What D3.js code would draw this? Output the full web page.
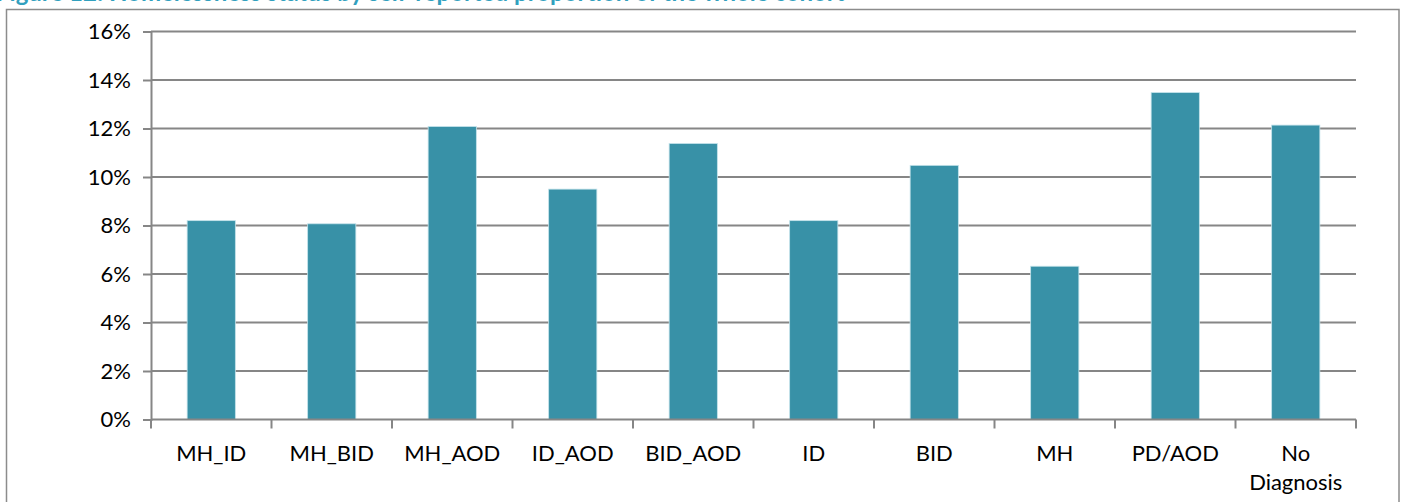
<!DOCTYPE html>
<html>
<head>
<meta charset="utf-8">
<script src="https://cdn.jsdelivr.net/npm/d3@7"></script>
<style>
  html, body { margin: 0; padding: 0; background: #fff; }
  svg { display: block; }
  text { font-family: Lato, "Open Sans", sans-serif; }
</style>
</head>
<body>
<svg id="chart" width="1405" height="502"></svg>
<script>
// Share of each diagnostic group (percent)
const categories = ["MH_ID", "MH_BID", "MH_AOD", "ID_AOD", "BID_AOD", "ID", "BID", "MH", "PD/AOD", "No Diagnosis"];
const values = [8.2, 8.07, 12.08, 9.5, 11.38, 8.2, 10.48, 6.32, 13.48, 12.14];
const yTicks = [0, 2, 4, 6, 8, 10, 12, 14, 16];
const titleText = "Figure 12: Homelessness status by self-reported proportion of the whole cohort";

const svg = d3.select("#chart");
const W = 1405, H = 502;
const margin = { left: 151, right: W - 1356, top: 31.5, bottom: H - 419.5 };
const gridColor = "#868686";
const barColor = "#3891a7";

// Title (sits mostly above the visible area)
svg.append("text")
  .attr("x", -4)
  .attr("y", 1)
  .attr("fill", "#31a0be")
  .attr("font-weight", "bold")
  .attr("font-size", 24)
  .text(titleText);

// Chart frame
svg.append("rect")
  .attr("x", 6.5).attr("y", 9.5)
  .attr("width", 1392.5).attr("height", 520)
  .attr("fill", "#fff")
  .attr("stroke", "#8c8c8c")
  .attr("stroke-width", 1.5);

const x = d3.scaleBand()
  .domain(categories)
  .range([margin.left, W - margin.right])
  .padding(0);

const y = d3.scaleLinear()
  .domain([0, 16])
  .range([H - margin.bottom, margin.top]);

// Horizontal gridlines
svg.append("g")
  .selectAll("line")
  .data(yTicks.filter(d => d > 0))
  .join("line")
  .attr("x1", margin.left)
  .attr("x2", W - margin.right)
  .attr("y1", d => y(d))
  .attr("y2", d => y(d))
  .attr("stroke", gridColor)
  .attr("stroke-width", 2);

// Bars
const barW = x.bandwidth() * 0.4;
svg.append("g")
  .selectAll("rect")
  .data(categories.map((c, i) => ({ c, v: values[i] })))
  .join("rect")
  .attr("x", d => x(d.c) + (x.bandwidth() - barW) / 2)
  .attr("y", d => y(d.v))
  .attr("width", barW)
  .attr("height", d => y(0) - y(d.v))
  .attr("fill", barColor)
  .attr("stroke", "#c3e2ea")
  .attr("stroke-width", 0.8);

// Y axis
const yAxis = d3.axisLeft(y)
  .tickValues(yTicks)
  .tickFormat(d => d + "%")
  .tickSize(8)
  .tickPadding(12);
const gy = svg.append("g")
  .attr("transform", `translate(${margin.left},0)`)
  .call(yAxis);
gy.select(".domain").attr("stroke", gridColor).attr("stroke-width", 2);
gy.selectAll(".tick line").attr("stroke", gridColor).attr("stroke-width", 2);
gy.selectAll(".tick text")
  .attr("font-family", "Lato, sans-serif")
  .attr("font-size", 22)
  .attr("fill", "#000");

// X axis: ticks on band boundaries
const gx = svg.append("g");
gx.append("line")
  .attr("x1", margin.left).attr("x2", W - margin.right)
  .attr("y1", y(0)).attr("y2", y(0))
  .attr("stroke", gridColor).attr("stroke-width", 2);
const bounds = categories.map(c => x(c)).concat([x.range()[1]]);
gx.selectAll("line.tk")
  .data(bounds)
  .join("line")
  .attr("class", "tk")
  .attr("x1", d => d).attr("x2", d => d)
  .attr("y1", y(0)).attr("y2", y(0) + 9)
  .attr("stroke", gridColor).attr("stroke-width", 2);

// Category labels (wrapped onto two lines where needed)
gx.selectAll("text.lbl")
  .data(categories)
  .join("text")
  .attr("class", "lbl")
  .attr("text-anchor", "middle")
  .attr("font-size", 22)
  .attr("fill", "#000")
  .each(function (d) {
    const words = d === "No Diagnosis" ? ["No", "Diagnosis"] : [d];
    const t = d3.select(this);
    words.forEach((w, i) => {
      t.append("tspan")
        .attr("x", x(d) + x.bandwidth() / 2)
        .attr("y", 461 + i * 29)
        .text(w);
    });
  });
</script>
</body>
</html>
